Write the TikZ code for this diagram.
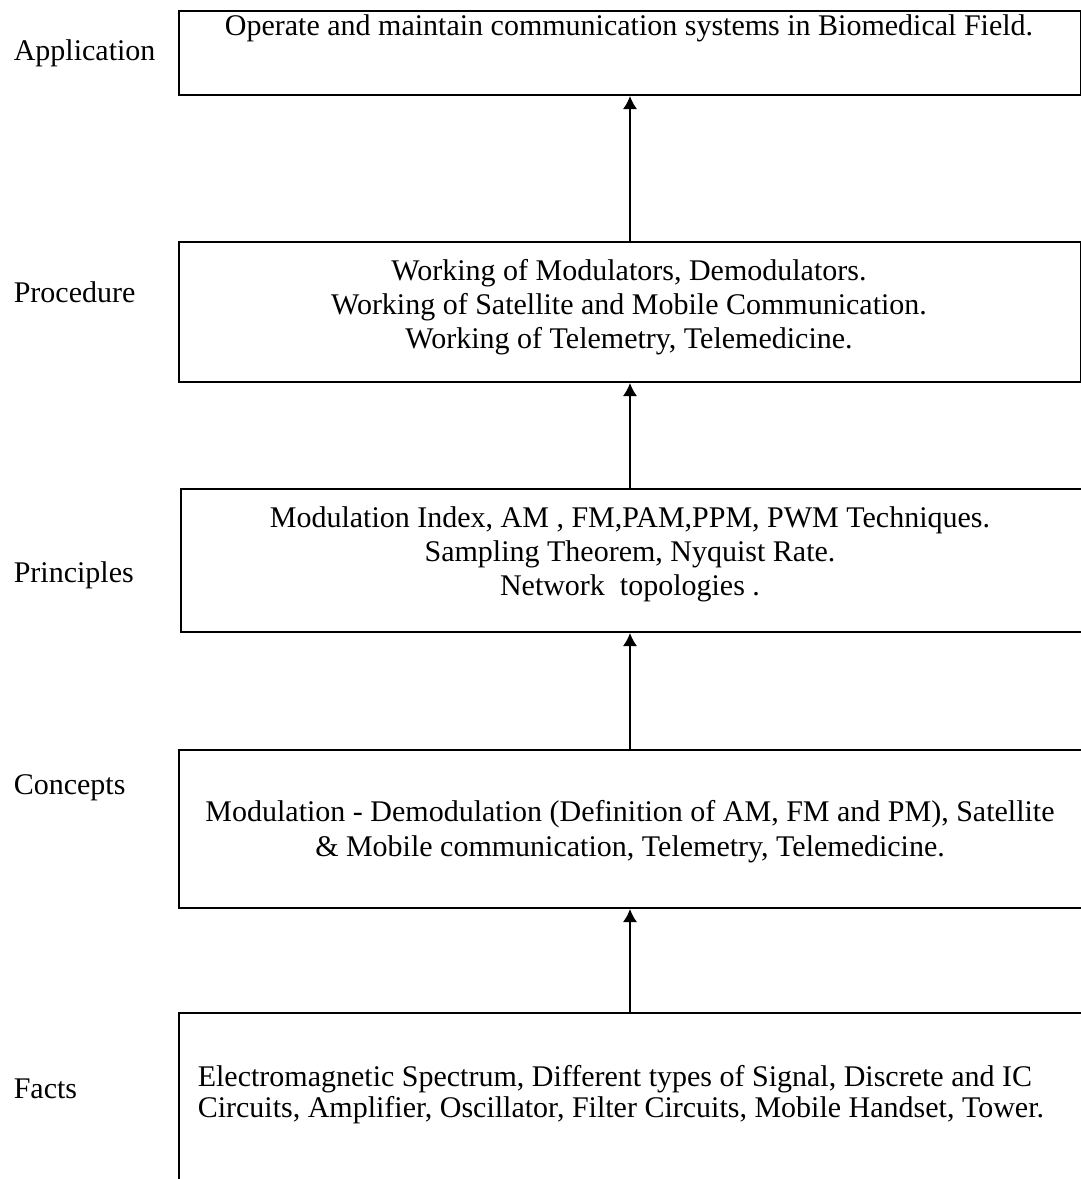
\documentclass[tikz,border=0pt]{standalone}
\usepackage{fontspec}
\setmainfont{Liberation Serif}
\usetikzlibrary{arrows.meta}

\begin{document}
\begin{tikzpicture}[
    x=0.5pt,
    y=-0.5pt,
    >={Latex[length=6.5pt,width=7pt]},
    line width=0.8pt,
    box/.style={draw, line width=1pt, anchor=north west, inner sep=0pt, minimum width=#1},
    box/.default=451pt,
    level/.style={anchor=base west, inner sep=0pt, font=\fontsize{15}{17}\selectfont},
    txt/.style={align=center, inner sep=0pt, font=\fontsize{15}{17}\selectfont}
]
    \useasboundingbox (0,0) rectangle (1081,1179);

    \node[box,minimum height=42pt]         (Appl)  at (178,10)   {};
    \node[box,minimum height=70pt]         (Proc)  at (178,241)  {};
    \node[box=460pt,minimum height=71.5pt] (Princ) at (180,488)  {};
    \node[box=460pt,minimum height=79pt]   (Conc)  at (178,749)  {};
    \node[box=460pt,minimum height=100pt]  (Fact)  at (178,1012) {};

    \node[level] (ApplLbl)  at (13,60)   {Application};
    \node[level] (ProcLbl)  at (13,302)  {Procedure};
    \node[level] (PrincLbl) at (13,582)  {Principles};
    \node[level] (ConcLbl)  at (13,794)  {Concepts};
    \node[level] (FactLbl)  at (13,1098) {Facts};

    \node[txt] (ApplTxt)  at (629,28)  {Operate and maintain communication systems in Biomedical Field.};
    \node[txt] (ProcTxt)  at (629,307) {Working of Modulators, Demodulators.\\
                                        Working of Satellite and Mobile Communication.\\
                                        Working of Telemetry, Telemedicine.};
    \node[txt] (PrincTxt) at (630,554) {Modulation Index, AM , FM,PAM,PPM, PWM Techniques.\\
                                        Sampling Theorem, Nyquist Rate.\\
                                        Network \ topologies .};
    \node[txt,font=\fontsize{15}{17.5}\selectfont] (ConcTxt) at (630,832)
        {Modulation - Demodulation (Definition of AM, FM and PM), Satellite\\
         \& Mobile communication, Telemetry, Telemedicine.};
    \node[txt,align=left,anchor=west,font=\fontsize{15}{15.5}\selectfont] (FactTxt) at (197,1095)
        {Electromagnetic Spectrum, Different types of Signal, Discrete and IC\\
         Circuits, Amplifier, Oscillator, Filter Circuits, Mobile Handset, Tower.};

    \path[->]
    (Fact.north -| Appl.south)  edge (Conc.south -| Appl.south)
    (Conc.north -| Appl.south)  edge (Princ.south -| Appl.south)
    (Princ.north -| Appl.south) edge (Proc.south)
    (Proc.north)                edge (Appl.south);
\end{tikzpicture}
\end{document}
